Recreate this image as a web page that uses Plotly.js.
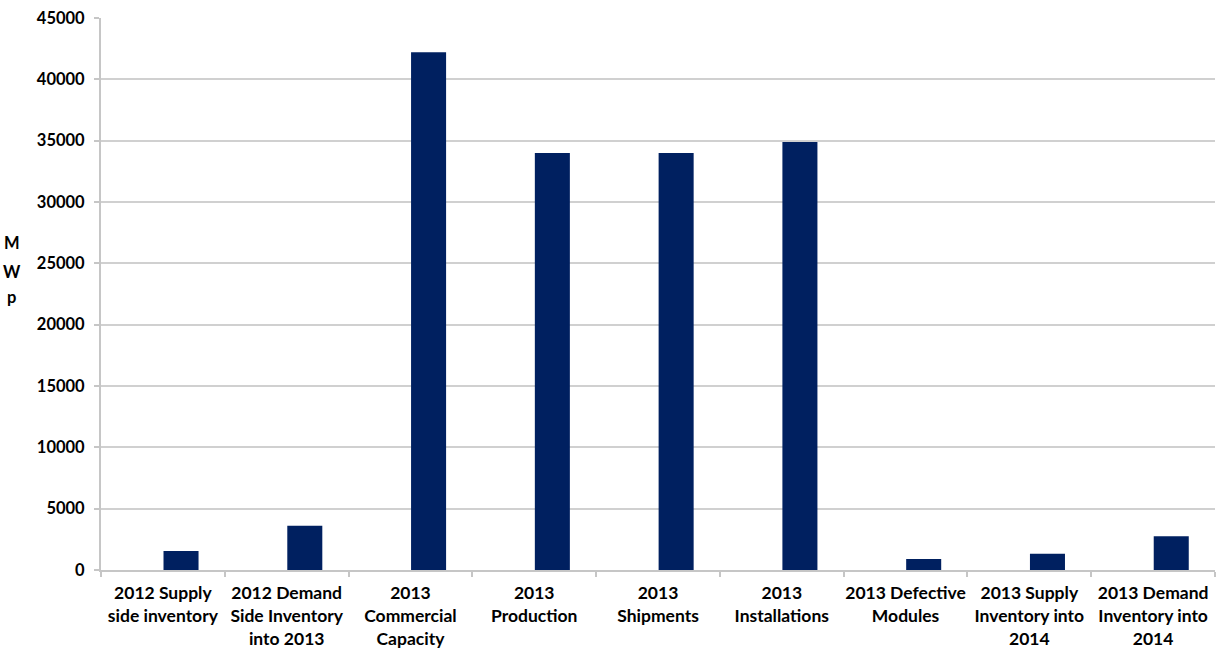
<!DOCTYPE html>
<html>
<head>
<meta charset="utf-8">
<script src="https://cdn.plot.ly/plotly-3.0.1.min.js"></script>
<style>html,body{margin:0;padding:0;background:#fff;}#chart{width:1226px;height:662px;}</style>
</head>
<body>
<div id="chart"></div>
<script>
var categories = [
  "2012 Supply<br>side inventory",
  "2012 Demand<br>Side Inventory<br>into 2013",
  "2013<br>Commercial<br>Capacity",
  "2013<br>Production",
  "2013<br>Shipments",
  "2013<br>Installations",
  "2013 Defective<br>Modules",
  "2013 Supply<br>Inventory into<br>2014",
  "2013 Demand<br>Inventory into<br>2014"
];
var values = [1550, 3600, 42200, 34000, 34000, 34900, 900, 1330, 2750];
var yTicks = [0, 5000, 10000, 15000, 20000, 25000, 30000, 35000, 40000, 45000];
var yTitleLetters = ["M", "W", "p"];

var font = {family: "Lato, 'Open Sans', sans-serif", size: 16.5, color: "#000", weight: "bold"};
var xfont = {family: "Lato, 'Open Sans', sans-serif", size: 17.5, color: "#000", weight: "bold"};

var trace = {
  type: "bar",
  x: categories,
  y: values,
  width: 0.283,
  offset: 0.005,
  marker: {color: "#002060", line: {width: 0}},
  hoverinfo: "x+y"
};

var letterY = [0.592, 0.540, 0.494];
var annotations = yTitleLetters.map(function (t, i) {
  return {
    text: t, xref: "paper", yref: "paper",
    x: -0.080, y: letterY[i], xanchor: "center", yanchor: "middle",
    showarrow: false, font: font
  };
});

var layout = {
  width: 1226,
  height: 662,
  margin: {l: 101, r: 11, t: 18, b: 92},
  paper_bgcolor: "#fff",
  plot_bgcolor: "#fff",
  showlegend: false,
  font: font,
  xaxis: {
    type: "category",
    tickfont: xfont,
    tickangle: 0,
    ticklabelstandoff: 6,
    showline: true,
    linecolor: "#c6c6c6",
    linewidth: 2,
    ticks: "outside",
    tickson: "boundaries",
    ticklen: 5,
    tickcolor: "#c6c6c6",
    tickwidth: 2,
    showgrid: false,
    zeroline: false
  },
  yaxis: {
    range: [0, 45000],
    tickvals: yTicks,
    ticktext: yTicks.map(String),
    tickfont: font,
    ticklabelstandoff: 6,
    showgrid: true,
    gridcolor: "#d0d0d0",
    gridwidth: 2,
    showline: true,
    linecolor: "#c6c6c6",
    linewidth: 2,
    ticks: "outside",
    ticklen: 5,
    tickcolor: "#c6c6c6",
    tickwidth: 2,
    zeroline: false
  },
  annotations: annotations
};

Plotly.newPlot("chart", [trace], layout, {displayModeBar: false, staticPlot: true});
</script>
</body>
</html>
